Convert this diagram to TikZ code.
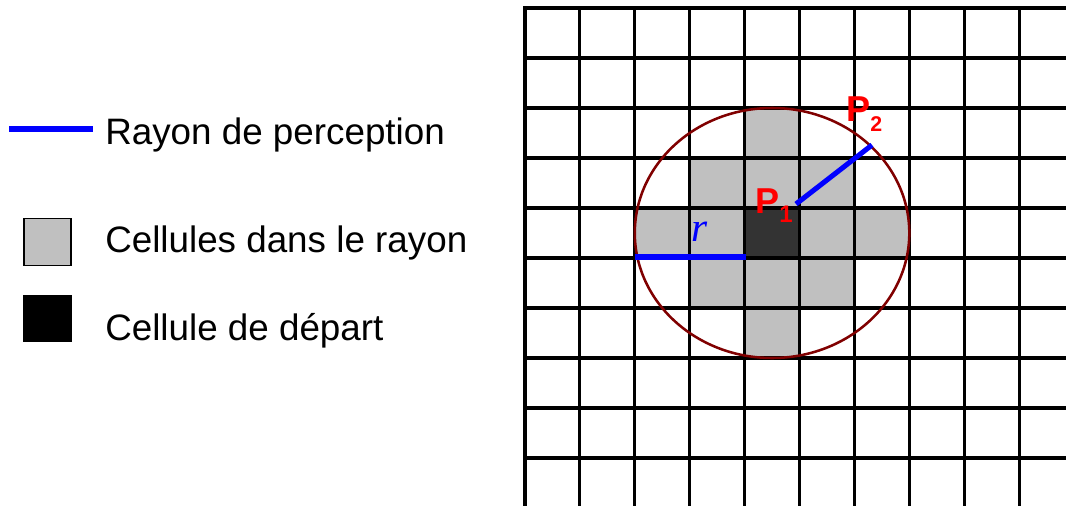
\documentclass[tikz,border=0pt]{standalone}
\usepackage{fontspec}
\setmainfont{Liberation Sans}
\newfontfamily\serifface{Liberation Serif}
\definecolor{cellgray}{HTML}{C0C0C0}
\definecolor{celldark}{HTML}{333333}
\definecolor{circred}{HTML}{800000}
\definecolor{rayblue}{HTML}{0000FF}
\definecolor{pred}{HTML}{FF0000}
\tikzset{
  gridline/.style={draw=black, line width=2.3pt, line cap=rect},
  ray/.style={draw=rayblue, line width=3.8pt},
  circline/.style={draw=circred, line width=1.9pt},
  startcell/.style={fill=celldark, draw=none, minimum width=41.175pt, minimum height=37.5pt, inner sep=0pt},
  legtext/.style={anchor=base west, inner sep=0pt, font=\fontsize{27.6}{33}\selectfont},
  graybox/.style={fill=cellgray, draw=black, line width=1.2pt, minimum width=35.5pt, minimum height=35pt, inner sep=0pt},
  blackbox/.style={fill=black, draw=none, minimum width=36.75pt, minimum height=35.25pt, inner sep=0pt},
  plabel/.style={anchor=base west, inner sep=0pt, text=pred, font=\fontsize{27}{27}\selectfont\bfseries},
  rlabel/.style={anchor=base west, inner sep=0pt, text=rayblue, font=\serifface\itshape\fontsize{31}{31}\selectfont}
}
\begin{document}
\begin{tikzpicture}[x=0.75pt,y=-0.75pt]
\useasboundingbox (0,0) rectangle (1066,506);
% gray cells clipped by the perception circle
\begin{scope}
  \clip (772.05,233) ellipse [x radius=102.94pt, y radius=93.75pt];
  \foreach \c/\r in {4/2,3/3,4/3,5/3,2/4,3/4,5/4,6/4,3/5,4/5,5/5,4/6}
    \fill[cellgray] ({525+54.9*\c},{8+50*\r}) rectangle ({525+54.9*(\c+1)},{8+50*(\r+1)});
\end{scope}
% start cell
\node[startcell] (start) at (772.05,233) {};
% grid
\foreach \i in {0,...,9}
  \draw[gridline] ({525+54.9*\i},8) -- ({525+54.9*\i},506);
\foreach \j in {0,...,9}
  \draw[gridline] (525,{8+50*\j}) -- (1066,{8+50*\j});
% perception circle
\draw[circline] (start.center) ellipse [x radius=102.94pt, y radius=93.75pt];
% radius r
\coordinate (rleft) at (635,257);
\draw[ray] (rleft) -- ([xshift=1.5pt]rleft -| start.west);
\node[rlabel] (r) at (691,241) {r};
% P1 -- P2
\coordinate (p1) at (796,204);
\coordinate (p2) at (872,145);
\draw[ray] (p1) -- (p2);
\node[plabel] (P1) at (755,213) {P\raisebox{-6.75pt}{\fontsize{18}{18}\selectfont 1}};
\node[plabel] (P2) at (846,122) {P\raisebox{-7.5pt}{\fontsize{16}{16}\selectfont 2}};
% legend
\coordinate (la) at (9,129);
\coordinate (lb) at (93,129);
\draw[ray] (la) -- (lb);
\node[legtext] (t1) at (105,145) {Rayon de perception};
\node[graybox] (s2) at (47.5,242) {};
\node[legtext] (t2) at (105,252) {Cellules dans le rayon};
\node[blackbox] (s3) at (47.5,318.5) {};
\node[legtext] (t3) at (105,340) {Cellule de départ};
\end{tikzpicture}
\end{document}
